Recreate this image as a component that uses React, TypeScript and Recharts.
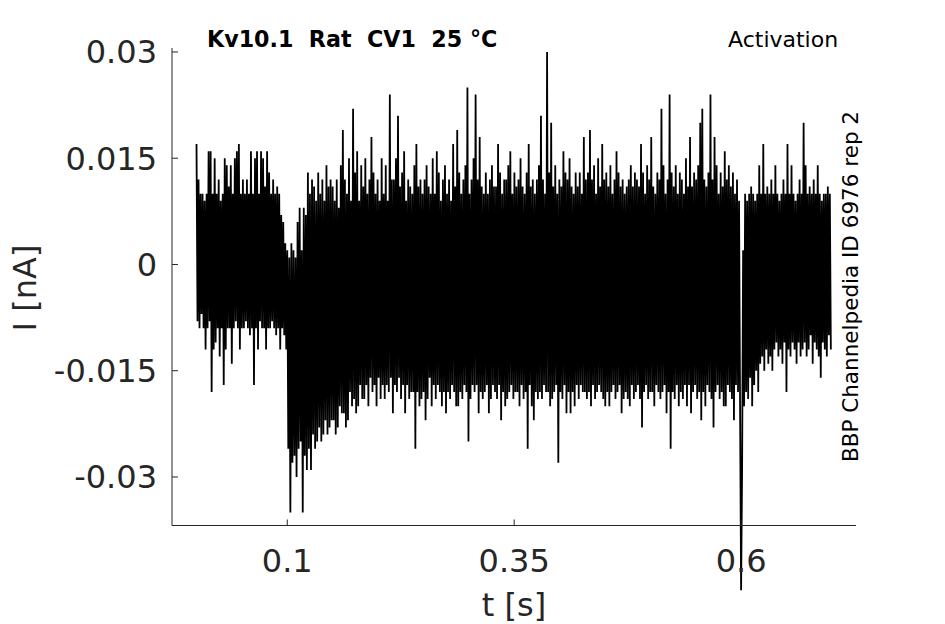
import { LineChart, Line, XAxis, YAxis } from 'recharts';

// Current trace in pA, one stretch at a time.
// Holding level before the step (0 - 0.1 s)
const baselinePA = [
  17, -8, 12, -9, 10, -7, 10, -9, 9, -12,
  10, -9, 16, -8, 16, -18, 10, -12, 15, -11,
  10, -9, 12, -13, 9, -9, 10, -17, 15, -12,
  14, -9, 11, -9, 14, -14, 10, -9, 15, -8,
  16, -9, 17, -12, 10, -9, 12, -9, 10, -8,
  12, -9, 10, -10, 16, -9, 10, -17, 15, -9,
  16, -12, 10, -8, 16, -9, 15, -9, 11, -12,
  16, -9, 13, -9, 10, -8, 12, -9, 10, -10,
  11, -9, 10, -12, 7, -9, 6, -10, 3, -12,
];

// Capacitive dip just after the step (0.1 - 0.15 s)
const onsetPA = [
  2, -26, 1, -35, 3, -28, 2, -27, 1, -30,
  6, -26, 8, -25, 2, -35, 8, -27, 7, -29,
  13, -26, 10, -29, 12, -24, 11, -26, 9, -25,
  13, -23, 10, -25, 12, -24, 9, -22, 14, -24,
  11, -23, 12, -22,
];

// During the test pulse (0.15 - 0.6 s)
const pulsePA = [
  11, -22, 9, -24, 12, -23, 8, -20, 14, -21,
  19, -21, 12, -23, 10, -22, 15, -18, 9, -20,
  22, -19, 13, -21, 16, -20, 9, -17, 14, -19,
  11, -19, 15, -17, 10, -20, 12, -16, 18, -18,
  13, -17, 10, -20, 12, -16, 9, -19, 15, -17,
  10, -19, 14, -17, 9, -18, 24, -16, 12, -21,
  12, -17, 15, -18, 21, -16, 11, -19, 13, -17,
  16, -21, 9, -17, 12, -19, 11, -18, 10, -18,
  14, -26, 17, -18, 11, -20, 12, -19, 10, -18,
  12, -22, 14, -19, 11, -16, 10, -20, 15, -17,
  10, -19, 16, -17, 13, -18, 9, -20, 12, -18,
  14, -21, 10, -18, 12, -19, 9, -17, 17, -18,
  11, -20, 19, -20, 13, -18, 10, -19, 12, -17,
  14, -18, 25, -25, 10, -19, 12, -17, 15, -18,
  24, -17, 12, -21, 18, -18, 11, -19, 10, -18,
  13, -17, 10, -21, 12, -19, 14, -17, 11, -18,
  11, -19, 17, -17, 13, -22, 10, -18, 12, -20,
  12, -19, 14, -18, 16, -17, 10, -19, 13, -18,
  11, -18, 12, -20, 15, -17, 11, -19, 10, -18,
  13, -26, 17, -17, 11, -20, 12, -22, 10, -18,
  12, -19, 14, -18, 21, -19, 12, -17, 10, -18,
  30, -18, 13, -20, 20, -19, 11, -18, 14, -17,
  10, -28, 12, -18, 11, -19, 16, -17, 13, -21,
  12, -18, 15, -21, 11, -18, 10, -20, 13, -17,
  11, -19, 13, -17, 10, -18, 18, -18, 12, -19,
  13, -18, 19, -20, 12, -17, 14, -19, 10, -18,
  15, -17, 11, -18, 17, -19, 12, -20, 13, -18,
  11, -20, 14, -18, 10, -17, 12, -19, 16, -18,
  13, -17, 11, -21, 12, -19, 10, -18, 11, -19,
  12, -20, 14, -17, 11, -19, 13, -18, 12, -17,
  11, -19, 17, -23, 13, -18, 10, -17, 14, -19,
  12, -18, 18, -18, 11, -20, 10, -17, 13, -18,
  12, -19, 22, -18, 14, -17, 10, -21, 12, -18,
  24, -26, 13, -18, 11, -19, 14, -17, 10, -20,
  13, -18, 12, -19, 10, -17, 15, -20, 11, -17,
  18, -21, 11, -18, 13, -17, 12, -19, 14, -18,
  20, -22, 22, -18, 12, -20, 11, -17, 13, -18,
  24, -19, 12, -23, 18, -18, 14, -17, 10, -19,
  13, -18, 11, -20, 16, -20, 12, -17, 14, -18,
  11, -19, 13, -22, 10, -17, 12, -18, 9, -20,
];

// Back at holding level (0.6 - 0.7 s), starts with the tail spike
const tailPA = [
  -46, -29, 2, -20, 10, -18, 9, -19, 10, -16,
  11, -20, 10, -17, 9, -15, 10, -18, 14, -14,
  10, -13, 17, -15, 10, -12, 11, -14, 10, -13,
  12, -15, 10, -12, 14, -11, 10, -13, 9, -12,
  10, -14, 12, -11, 10, -18, 17, -12, 10, -13,
  14, -11, 10, -12, 9, -14, 10, -11, 12, -13,
  10, -12, 20, -11, 14, -13, 10, -12, 11, -10,
  10, -14, 12, -11, 10, -12, 14, -13, 10, -16,
  9, -11, 10, -12, 10, -13, 11, -10, 10, -12,
];

const segmentBounds = [0, 0.1, 0.15, 0.6, 0.7];
const segments = [baselinePA, onsetPA, pulsePA, tailPA];

const xTicks = [0.1, 0.35, 0.6];
const yTicks = [-0.03, -0.015, 0, 0.015, 0.03];

// samples are evenly spaced inside each stretch; pA -> nA for the axis
const data = segments.flatMap((values, s) => {
  const t0 = segmentBounds[s];
  const dt = (segmentBounds[s + 1] - t0) / values.length;
  return values.map((pA, i) => ({ t: t0 + i * dt, current: pA / 1000 }));
});

const font = 'DejaVu Sans';
const axisColor = '#262626';

export default function App() {
  return (
    <div>
      {/* no body margin, and let the tail spike run past the x axis like the original */}
      <style>{'body{margin:0} svg [clip-path]{clip-path:none !important}'}</style>
      <LineChart
        width={945}
        height={624}
        data={data}
        margin={{ top: 48, right: 89, bottom: 0, left: 0 }}
      >
        <XAxis
          dataKey="t"
          type="number"
          domain={[-0.027, 0.7266]}
          ticks={xTicks}
          interval={0}
          tickFormatter={(v) => String(v)}
          height={98.5}
          stroke={axisColor}
          tickSize={-6}
          tickMargin={30}
          tick={{ fill: axisColor, fontSize: 32, fontFamily: font }}
        />
        <YAxis
          type="number"
          domain={[-0.03685, 0.03056]}
          allowDataOverflow
          ticks={yTicks}
          interval={0}
          tickFormatter={(v) => String(v)}
          width={172}
          stroke={axisColor}
          tickSize={-6}
          tickMargin={21}
          tick={{ fill: axisColor, fontSize: 32, fontFamily: font }}
        />
        <Line
          type="linear"
          dataKey="current"
          stroke="#000"
          strokeWidth={1.8}
          dot={false}
          activeDot={false}
          isAnimationActive={false}
        />
        <text x={514} y={616} textAnchor="middle" fontSize={32} fontFamily={font} fill={axisColor}>
          t [s]
        </text>
        <text
          x={36}
          y={288}
          transform="rotate(-90 36 288)"
          textAnchor="middle"
          fontSize={32}
          fontFamily={font}
          fill={axisColor}
        >
          I [nA]
        </text>
        <text x={207} y={46.7} fontSize={22.2} fontWeight="bold" fontFamily={font} fill="#000">
          {'Kv10.1\u00a0\u00a0Rat\u00a0\u00a0CV1\u00a0\u00a025 \u00b0C'}
        </text>
        <text x={728} y={46.7} fontSize={22} fontFamily={font} fill="#000">
          Activation
        </text>
        <text
          x={858}
          y={286.5}
          transform="rotate(-90 858 286.5)"
          textAnchor="middle"
          fontSize={21.5}
          fontFamily={font}
          fill="#000"
        >
          BBP Channelpedia ID 6976 rep 2
        </text>
      </LineChart>
    </div>
  );
}
